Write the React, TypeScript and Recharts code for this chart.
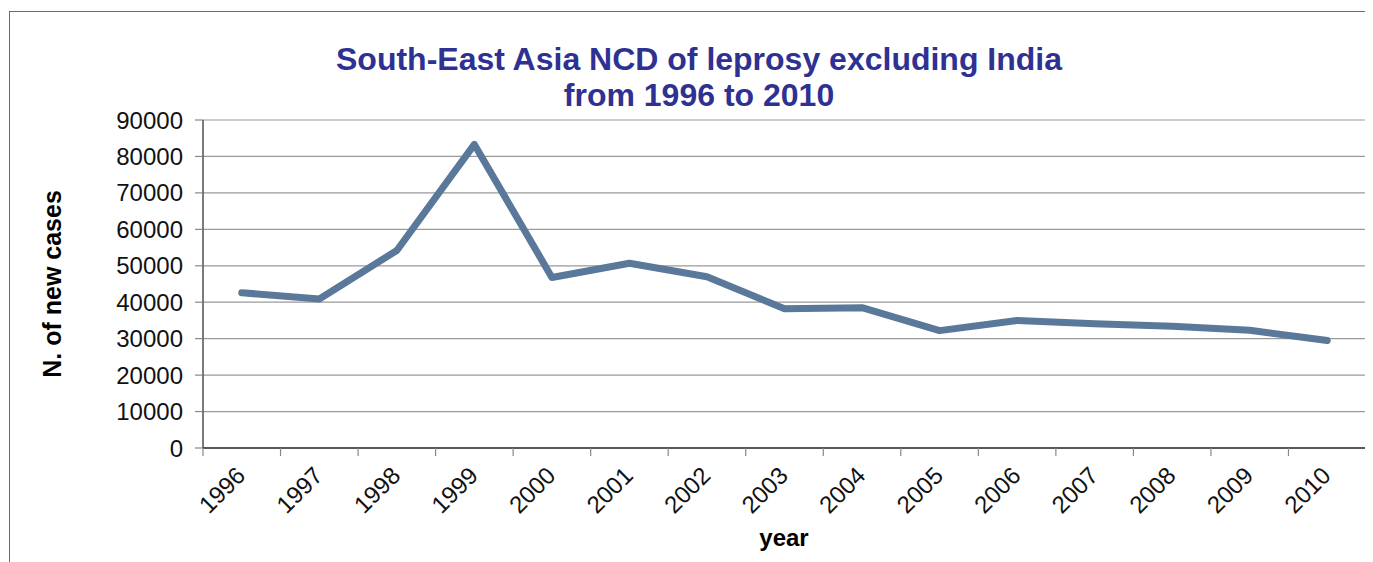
import React from 'react';
import { LineChart, Line, XAxis, YAxis, CartesianGrid, ReferenceLine, Customized } from 'recharts';

const years = ['1996', '1997', '1998', '1999', '2000', '2001', '2002', '2003', '2004', '2005', '2006', '2007', '2008', '2009', '2010'];
const newCases = [42600, 40900, 54200, 83300, 46800, 50700, 47000, 38200, 38500, 32200, 35000, 34100, 33400, 32300, 29500];
const yTicks = [0, 10000, 20000, 30000, 40000, 50000, 60000, 70000, 80000, 90000];
const titleLines = ['South-East Asia NCD of leprosy excluding India', 'from 1996 to 2010'];
const yLabel = 'N. of new cases';
const xLabel = 'year';

// category i occupies the band [i, i+1]; its point sits at the band centre
const data = years.map((y, i) => ({ year: y, cases: newCases[i], pos: i + 0.5 }));
const xTicks: number[] = [];
for (let i = 0; i <= years.length; i++) {
  xTicks.push(i);
  if (i < years.length) xTicks.push(i + 0.5);
}

const FONT = '"Liberation Sans", Arial, sans-serif';
const W = 1365;
const H = 554;

const XTick = (props: any) => {
  const { x, y, payload } = props;
  const v = payload.value as number;
  if (Number.isInteger(v)) {
    return <line x1={x} y1={y} x2={x} y2={y + 8} stroke="#888" strokeWidth={1.2} />;
  }
  const ax = x + 5;
  const ay = y + 29;
  return (
    <text
      x={ax}
      y={ay}
      textAnchor="end"
      transform={`rotate(-45, ${ax}, ${ay})`}
      fontFamily={FONT}
      fontSize={24}
      fill="#111"
    >
      {years[Math.floor(v)]}
    </text>
  );
};

const Texts = () => (
  <g>
    <text x={691} y={62} textAnchor="middle" fontFamily={FONT} fontSize={32} fontWeight="bold" fill="#2E3192">
      {titleLines[0]}
    </text>
    <text x={691} y={98} textAnchor="middle" fontFamily={FONT} fontSize={32} fontWeight="bold" fill="#2E3192">
      {titleLines[1]}
    </text>
    <text
      x={53}
      y={276}
      textAnchor="middle"
      transform="rotate(-90, 53, 276)"
      fontFamily={FONT}
      fontSize={25}
      fontWeight="bold"
      fill="#000"
    >
      {yLabel}
    </text>
    <text x={776} y={538} textAnchor="middle" fontFamily={FONT} fontSize={24} fontWeight="bold" fill="#000">
      {xLabel}
    </text>
  </g>
);

export default function App() {
  return (
    <div style={{ position: 'relative', width: W, height: H, overflow: 'hidden', background: '#fff' }}>
      <div
        style={{
          position: 'absolute',
          left: 1,
          top: 3,
          width: W + 20,
          height: H + 20,
          border: '1px solid #6b6b6b',
          boxSizing: 'border-box',
        }}
      />
      <div style={{ position: 'absolute', left: 0, top: 0 }}>
        <LineChart width={W} height={H} data={data} margin={{ top: 112, right: 7, left: 0, bottom: 14 }}>
          <CartesianGrid vertical={false} stroke="#9a9a9a" strokeWidth={1.2} />
          <XAxis
            type="number"
            dataKey="pos"
            domain={[0, years.length]}
            ticks={xTicks}
            interval={0}
            height={100}
            tickSize={0}
            tickMargin={0}
            tickLine={false}
            tick={<XTick />}
            axisLine={{ stroke: '#333', strokeWidth: 1.3 }}
            allowDataOverflow
          />
          <YAxis
            domain={[0, 90000]}
            ticks={yTicks}
            width={195}
            tickSize={8}
            tickMargin={12}
            interval={0}
            axisLine={{ stroke: '#333', strokeWidth: 1.3 }}
            tickLine={{ stroke: '#888', strokeWidth: 1.2 }}
            tick={{ fontFamily: FONT, fontSize: 24, fill: '#111' }}
          />
          <ReferenceLine x={years.length} stroke="#666" strokeWidth={1.3} ifOverflow="visible" />
          <Line
            type="linear"
            dataKey="cases"
            stroke="#5A7899"
            strokeWidth={7}
            strokeLinejoin="round"
            strokeLinecap="round"
            dot={false}
            activeDot={false}
            isAnimationActive={false}
          />
          <Customized component={Texts} />
        </LineChart>
      </div>
    </div>
  );
}
